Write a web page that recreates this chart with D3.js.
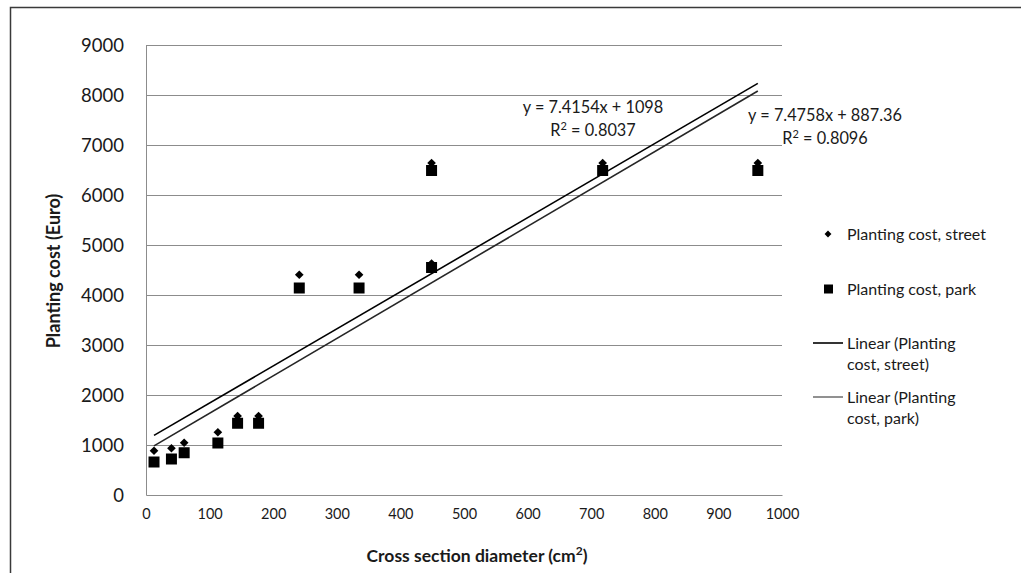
<!DOCTYPE html>
<html>
<head>
<meta charset="utf-8">
<script src="https://cdn.jsdelivr.net/npm/d3@7"></script>
<style>
  body { margin: 0; background: #fff; }
  text { font-family: Lato, "Open Sans", sans-serif; fill: #1a1a1a; }
</style>
</head>
<body>
<div class="chartDiv"></div>
<script>
// values
const diameters = [12.6, 40, 60, 113, 144, 177, 241, 335, 449, 449, 718, 962];
const streetCost = [885, 935, 1045, 1255, 1580, 1580, 4405, 4405, 4630, 6640, 6640, 6640];
const parkCost = [660, 720, 845, 1040, 1435, 1435, 4140, 4140, 4550, 6490, 6490, 6490];
const yTicks = [0, 1000, 2000, 3000, 4000, 5000, 6000, 7000, 8000, 9000];
const xTicks = [0, 100, 200, 300, 400, 500, 600, 700, 800, 900, 1000];
const trendSlope = [7.4154, 7.4758];
const trendIntercept = [1098, 887.36];
const trendR2 = ["0.8037", "0.8096"];
const legendLabels = ["Planting cost, street", "Planting cost, park",
                      ["Linear (Planting", "cost, street)"], ["Linear (Planting", "cost, park)"]];

let svgWidth = 1021;
let svgHeight = 573;

let margin = { top: 45, bottom: 78, right: 239, left: 146 };
let graphWidth = svgWidth - margin.left - margin.right;
let graphHeight = svgHeight - margin.top - margin.bottom;

let svg = d3.select('.chartDiv')
            .append('svg')
            .attr('width', svgWidth)
            .attr('height', svgHeight);

// outer frame (only top and left edges show)
svg.append('path')
   .attr('d', 'M10.5,573 L10.5,7.5 L1021,7.5')
   .attr('fill', 'none')
   .attr('stroke', '#3a3a3a')
   .attr('stroke-width', 1.5);

let chartGroup = svg.append('g')
                    .attr('transform', `translate(${margin.left}, ${margin.top})`);

let xScale = d3.scaleLinear().domain([0, 1000]).range([0, graphWidth]);
let yScale = d3.scaleLinear().domain([0, 9000]).range([graphHeight, 0]);

// gridlines
chartGroup.append('g')
          .selectAll('line')
          .data(yTicks.filter(d => d > 0))
          .enter().append('line')
          .attr('x1', 0).attr('x2', graphWidth)
          .attr('y1', d => Math.round(yScale(d)) + 0.5)
          .attr('y2', d => Math.round(yScale(d)) + 0.5)
          .attr('stroke', '#8c8c8c')
          .attr('stroke-width', 1);

let leftaxis = d3.axisLeft(yScale).tickValues(yTicks).tickFormat(d3.format('d'))
                 .tickSize(0).tickPadding(22);
let bottomaxis = d3.axisBottom(xScale).tickValues(xTicks).tickFormat(d3.format('d'))
                   .tickSize(0).tickPadding(15);

let yAxisG = chartGroup.append('g').call(leftaxis);
yAxisG.selectAll('text').style('font-size', '18.5px').attr('dy', '0.36em');

let xAxisG = chartGroup.append('g')
                       .attr('transform', `translate(0, ${graphHeight})`)
                       .call(bottomaxis);
xAxisG.selectAll('text').style('font-size', '14.5px').attr('dy', '0.6em');

chartGroup.selectAll('.domain').attr('stroke', '#8c8c8c').attr('stroke-width', 1);

// axis titles
chartGroup.append('text')
          .attr('transform', `translate(${-86}, ${271 - margin.top}) rotate(-90)`)
          .attr('text-anchor', 'middle')
          .style('font-size', '18px')
          .style('font-weight', 'bold')
          .text('Planting cost (Euro)');

let xTitle = chartGroup.append('text')
          .attr('x', 477 - margin.left)
          .attr('y', graphHeight + 67)
          .attr('text-anchor', 'middle')
          .style('font-size', '17.5px')
          .style('font-weight', 'bold');
xTitle.append('tspan').text('Cross section diameter (cm');
xTitle.append('tspan').attr('dy', -7).style('font-size', '12px').text('2');
xTitle.append('tspan').attr('dy', 7).text(')');

// trend lines
let xMin = d3.min(diameters), xMax = d3.max(diameters);
let trendColors = ['#000', '#262626'];
trendSlope.forEach((m, i) => {
  chartGroup.append('line')
            .attr('x1', xScale(xMin)).attr('y1', yScale(m * xMin + trendIntercept[i]))
            .attr('x2', xScale(xMax)).attr('y2', yScale(m * xMax + trendIntercept[i]))
            .attr('stroke', trendColors[i])
            .attr('stroke-width', 1.6);
});

// points
let diamond = d3.symbol().type(d3.symbolDiamond2).size(48);
chartGroup.append('g')
          .selectAll('path')
          .data(diameters)
          .enter().append('path')
          .attr('d', diamond)
          .attr('transform', (d, i) => `translate(${xScale(d)}, ${yScale(streetCost[i])})`)
          .attr('fill', '#000');

chartGroup.append('g')
          .selectAll('rect')
          .data(diameters)
          .enter().append('rect')
          .attr('x', d => xScale(d) - 5.5)
          .attr('y', (d, i) => yScale(parkCost[i]) - 5.5)
          .attr('width', 11).attr('height', 11)
          .attr('fill', '#000');

// equation labels
let eqPos = [[593 - margin.left, 107 - margin.top], [825 - margin.left, 115 - margin.top]];
trendSlope.forEach((m, i) => {
  chartGroup.append('text')
            .attr('text-anchor', 'middle')
            .attr('x', eqPos[i][0]).attr('y', eqPos[i][1]).attr('dy', '0.35em')
            .style('font-size', '16.3px')
            .text(`y = ${m}x + ${trendIntercept[i]}`);
  let r = chartGroup.append('text')
                    .attr('text-anchor', 'middle')
                    .attr('x', eqPos[i][0]).attr('y', eqPos[i][1] + 23).attr('dy', '0.35em')
                    .style('font-size', '16.3px');
  r.append('tspan').text('R');
  r.append('tspan').attr('dy', -6).style('font-size', '11px').text('2');
  r.append('tspan').attr('dy', 6).text(` = ${trendR2[i]}`);
});

// legend
let legend = svg.append('g');
let legendY = [234, 289, 343, 397];
legendLabels.forEach((lab, i) => {
  let y = legendY[i];
  if (i === 0) {
    legend.append('path')
          .attr('d', d3.symbol().type(d3.symbolDiamond2).size(30))
          .attr('transform', `translate(828, ${y})`)
          .attr('fill', '#000');
  } else if (i === 1) {
    legend.append('rect')
          .attr('x', 824).attr('y', y - 4.5).attr('width', 9).attr('height', 9)
          .attr('fill', '#000');
  } else {
    legend.append('line')
          .attr('x1', 813).attr('x2', 843)
          .attr('y1', y).attr('y2', y)
          .attr('stroke', i === 2 ? '#000' : '#555')
          .attr('stroke-width', i === 2 ? 1.6 : 1.3);
  }
  let lines = Array.isArray(lab) ? lab : [lab];
  lines.forEach((t, k) => {
    legend.append('text')
          .attr('x', 847).attr('y', y + k * 21)
          .attr('dy', '0.35em')
          .style('font-size', '16px')
          .text(t);
  });
});
</script>
</body>
</html>
